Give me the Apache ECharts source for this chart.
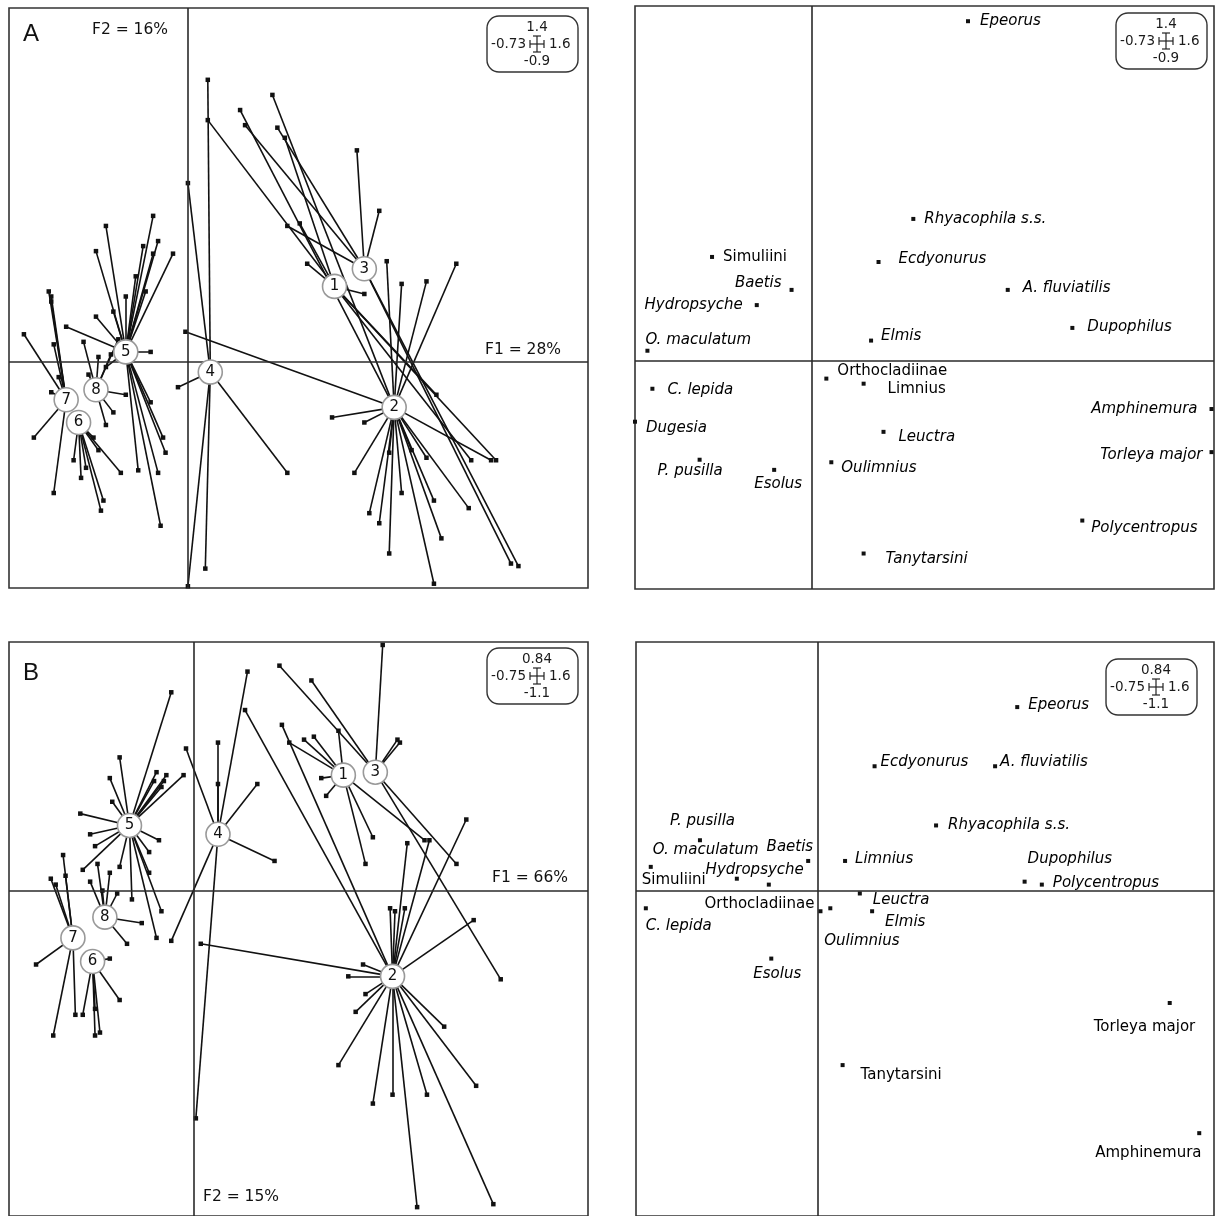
<!DOCTYPE html>
<html><head><meta charset="utf-8">
<script src="https://cdn.jsdelivr.net/npm/echarts/dist/echarts.min.js"></script>
<style>html,body{margin:0;padding:0;background:#fff}#c{width:1216px;height:1216px}</style>
</head><body><div id="c"></div>
<script>
// ---------- DATA ----------
const groupIds = ['1','2','3','4','5','6','7','8'];

// Panel A (F1 = 28%, F2 = 16%) class centres, ids 1..8
const centersA = [[0.59,0.30],[0.83,-0.18],[0.71,0.37],[0.09,-0.04],[-0.25,0.04],[-0.44,-0.24],[-0.49,-0.15],[-0.37,-0.11]];
const sitesA1 = [[0.08,0.96],[0.39,0.89],[0.48,0.39],[0.71,0.27],[1.24,-0.39],[1.14,-0.39],[1.00,-0.13],[0.45,0.55]];
const sitesA2 = [[0.34,1.06],[0.21,1.00],[0.80,0.40],[0.86,0.31],[0.96,0.32],[1.08,0.39],[-0.01,0.12],[0.58,-0.22],[0.71,-0.24],[0.67,-0.44],[0.81,-0.76],[0.73,-0.60],[0.77,-0.64],[0.86,-0.52],[0.99,-0.55],[1.02,-0.70],[0.99,-0.88],[1.13,-0.58],[1.22,-0.39],[0.81,-0.36],[0.90,-0.35],[0.96,-0.38]];
const sitesA3 = [[0.23,0.94],[0.36,0.93],[0.68,0.84],[0.77,0.60],[1.33,-0.81],[1.30,-0.80],[0.40,0.54]];
const sitesA4 = [[0.08,1.12],[0.00,0.71],[-0.04,-0.10],[0.40,-0.44],[0.07,-0.82],[0.00,-0.89]];
const sitesA5 = [[-0.33,0.54],[-0.37,0.44],[-0.14,0.58],[-0.21,0.34],[-0.14,0.43],[-0.06,0.43],[-0.25,0.26],[-0.17,0.28],[-0.12,0.48],[-0.18,0.46],[-0.15,0.04],[-0.20,-0.43],[-0.11,-0.65],[-0.09,-0.36],[-0.10,-0.30],[-0.15,-0.16],[-0.49,0.14],[-0.37,0.18],[-0.30,0.20],[-0.33,-0.02],[-0.12,-0.44]];
const sitesA6 = [[-0.35,-0.59],[-0.34,-0.55],[-0.43,-0.46],[-0.46,-0.39],[-0.27,-0.44],[-0.41,-0.42],[-0.38,-0.30],[-0.36,-0.35]];
const sitesA7 = [[-0.56,0.28],[-0.55,0.26],[-0.55,0.24],[-0.66,0.11],[-0.54,0.07],[-0.54,-0.52],[-0.62,-0.30],[-0.55,-0.12],[-0.52,-0.06]];
const sitesA8 = [[-0.25,-0.13],[-0.36,0.02],[-0.31,0.03],[-0.28,0.09],[-0.42,0.08],[-0.33,-0.25],[-0.30,-0.20],[-0.40,-0.05]];

// Panel B (F1 = 66%, F2 = 15%)
const centersB = [[0.61,0.39],[0.81,-0.29],[0.74,0.40],[0.10,0.19],[-0.26,0.22],[-0.41,-0.24],[-0.49,-0.16],[-0.36,-0.09]];
const sitesB1 = [[0.39,0.50],[0.45,0.51],[0.49,0.52],[0.59,0.54],[0.52,0.38],[0.54,0.32],[0.73,0.18],[0.70,0.09],[0.94,0.17]];
const sitesB2 = [[0.21,0.61],[0.36,0.56],[1.11,0.24],[1.14,-0.10],[0.87,0.16],[0.96,0.17],[0.59,-0.59],[0.73,-0.72],[0.81,-0.69],[0.95,-0.69],[1.15,-0.66],[1.02,-0.46],[1.22,-1.06],[0.91,-1.07],[0.63,-0.29],[0.66,-0.41],[0.70,-0.35],[0.69,-0.25],[0.03,-0.18],[0.80,-0.06],[0.82,-0.07],[0.86,-0.06]];
const sitesB3 = [[0.48,0.71],[0.35,0.76],[0.77,0.83],[0.83,0.51],[0.84,0.50],[1.07,0.09],[1.25,-0.30]];
const sitesB4 = [[-0.03,0.48],[0.10,0.50],[0.22,0.74],[0.26,0.36],[0.33,0.10],[-0.09,-0.17],[0.01,-0.77],[0.10,0.36]];
const sitesB5 = [[-0.09,0.67],[-0.30,0.45],[-0.34,0.38],[-0.33,0.30],[-0.46,0.26],[-0.42,0.19],[-0.15,0.40],[-0.11,0.39],[-0.04,0.39],[-0.16,0.37],[-0.14,0.17],[-0.18,0.13],[-0.30,0.08],[-0.25,-0.03],[-0.13,-0.07],[-0.18,0.06],[-0.40,0.15],[-0.45,0.07],[-0.15,-0.16],[-0.13,0.35],[-0.12,0.37]];
const sitesB6 = [[-0.40,-0.49],[-0.38,-0.48],[-0.30,-0.37],[-0.34,-0.23],[-0.45,-0.42],[-0.40,-0.40]];
const sitesB7 = [[-0.53,0.12],[-0.58,0.04],[-0.56,0.02],[-0.64,-0.25],[-0.57,-0.49],[-0.48,-0.42],[-0.52,0.05]];
const sitesB8 = [[-0.42,0.03],[-0.39,0.09],[-0.31,-0.01],[-0.21,-0.11],[-0.37,0.00],[-0.34,0.06],[-0.27,-0.18]];

// Species (taxa) scores
const speciesA  = ['Epeorus','Rhyacophila s.s.','Simuliini','Ecdyonurus','Baetis','A. fluviatilis','Hydropsyche','Dupophilus','Elmis','O. maculatum','Orthocladiinae','Limnius','C. lepida','Amphinemura','Leuctra','Dugesia','Torleya major','Oulimnius','P. pusilla','Esolus','Polycentropus','Tanytarsini'];
const speciesAx = [0.63,0.41,-0.40,0.27,-0.08,0.79,-0.22,1.05,0.24,-0.66,0.06,0.21,-0.64,1.61,0.29,-0.71,1.61,0.08,-0.45,-0.15,1.09,0.21];
const speciesAy = [1.34,0.56,0.41,0.39,0.28,0.28,0.22,0.13,0.08,0.04,-0.07,-0.09,-0.11,-0.19,-0.28,-0.24,-0.36,-0.40,-0.39,-0.43,-0.63,-0.76];
const uprightA  = ['Simuliini','Orthocladiinae','Limnius'];

const speciesB  = ['Epeorus','Ecdyonurus','A. fluviatilis','Rhyacophila s.s.','P. pusilla','Simuliini','O. maculatum','Hydropsyche','Baetis','Limnius','Dupophilus','Polycentropus','Orthocladiinae','Oulimnius','Leuctra','Elmis','C. lepida','Dugesia','Esolus','Torleya major','Tanytarsini','Amphinemura'];
const speciesBx = [0.81,0.23,0.72,0.48,-0.48,-0.68,-0.33,-0.20,-0.04,0.11,0.84,0.91,0.01,0.05,0.17,0.22,-0.70,-0.75,-0.19,1.43,0.10,1.55];
const speciesBy = [0.62,0.42,0.42,0.22,0.17,0.08,0.04,0.02,0.10,0.10,0.03,0.02,-0.07,-0.06,-0.01,-0.07,-0.06,-0.21,-0.23,-0.38,-0.59,-0.82];
const uprightB  = ['Simuliini','Orthocladiinae','Tanytarsini','Torleya major','Amphinemura'];

// Scale boxes: [top, left, right, bottom]
const scaleA = ['1.4','-0.73','1.6','-0.9'];
const scaleB = ['0.84','-0.75','1.6','-1.1'];
const axisTitles = ['F1 = 28%','F2 = 16%','F1 = 66%','F2 = 15%'];
const panelLetters = ['A','B'];

// ---------- STYLE / LAYOUT ----------
// label offsets (px from point to text anchor): [dx, dy, align]
const labelPlaceA = {
  'Epeorus':[12,0,'left'],'Rhyacophila s.s.':[11,0,'left'],'Simuliini':[11,0,'left'],'Ecdyonurus':[20,-3,'left'],
  'Baetis':[-10,-7,'right'],'A. fluviatilis':[15,-2,'left'],'Hydropsyche':[-14,0,'right'],'Dupophilus':[15,-1,'left'],
  'Elmis':[10,-4,'left'],'O. maculatum':[-2,-11,'left'],'Orthocladiinae':[11,-8,'left'],'Limnius':[24,5,'left'],
  'C. lepida':[15,1,'left'],'Amphinemura':[-14,0,'right'],'Leuctra':[15,5,'left'],'Dugesia':[11,6,'left'],
  'Torleya major':[-9,3,'right'],'Oulimnius':[10,6,'left'],'P. pusilla':[-42,11,'left'],'Esolus':[-20,14,'left'],
  'Polycentropus':[9,8,'left'],'Tanytarsini':[22,6,'left']
};
const labelPlaceB = {
  'Epeorus':[11,-2,'left'],'Ecdyonurus':[6,-4,'left'],'A. fluviatilis':[5,-4,'left'],'Rhyacophila s.s.':[12,0,'left'],
  'P. pusilla':[-30,-19,'left'],'Simuliini':[-9,13,'left'],'O. maculatum':[-84,-29,'left'],'Hydropsyche':[35,-15,'right'],
  'Baetis':[5,-14,'right'],'Limnius':[10,-2,'left'],'Dupophilus':[3,-23,'left'],'Polycentropus':[11,-2,'left'],
  'Orthocladiinae':[-6,-7,'right'],'Oulimnius':[-6,33,'left'],'Leuctra':[13,7,'left'],'Elmis':[13,11,'left'],
  'C. lepida':[0,18,'left'],'Dugesia':[12,7,'left'],'Esolus':[-18,16,'left'],'Torleya major':[-76,24,'left'],
  'Tanytarsini':[18,10,'left'],'Amphinemura':[-104,20,'left']
};

const FONT = 'DejaVu Sans';
const INK = '#111';

const grids = [
  {left:9,   top:8,   width:579, height:580},
  {left:635, top:6,   width:579, height:583},
  {left:9,   top:642, width:579, height:582},
  {left:636, top:642, width:578, height:582}
];
const xRanges = [[-0.72,1.61],[-0.71,1.62],[-0.75,1.605],[-0.74,1.61]];
const yRanges = [[-0.897,1.405],[-0.90,1.40],[-1.10,0.84],[-1.10,0.84]];

const chart = echarts.init(document.getElementById('c'), null, {renderer:'canvas'});

const series = [];

function zeroLines(idx){
  series.push({
    type:'scatter', xAxisIndex:idx, yAxisIndex:idx, data:[[0,0]], symbolSize:0, silent:true, z:1,
    markLine:{silent:true, symbol:'none', animation:false, label:{show:false},
      lineStyle:{color:'#2a2a2a', type:'solid', width:1.6, opacity:1},
      data:[{xAxis:0},{yAxis:0}]}
  });
}

function starPanel(idx, centers, sites){
  const segs = [], ends = [];
  sites.forEach((arr, g) => {
    arr.forEach(p => { segs.push({coords:[centers[g], p]}); ends.push(p); });
  });
  series.push({type:'lines', coordinateSystem:'cartesian2d', xAxisIndex:idx, yAxisIndex:idx,
    polyline:false, silent:true, z:3, data:segs,
    lineStyle:{color:INK, width:1.6, opacity:1}});
  series.push({type:'scatter', xAxisIndex:idx, yAxisIndex:idx, data:ends, symbol:'rect', symbolSize:4.5,
    itemStyle:{color:INK, opacity:1}, silent:true, z:4});
  series.push({type:'scatter', xAxisIndex:idx, yAxisIndex:idx, z:6, silent:true,
    data:centers.map((c,i)=>({value:c, name:groupIds[i]})),
    symbol:'circle', symbolSize:24,
    itemStyle:{color:'#fff', borderColor:'#999', borderWidth:1.6, opacity:1},
    label:{show:true, position:'inside', formatter:p=>p.name, color:'#111', fontSize:15, fontFamily:FONT}});
}

function speciesPanel(idx, names, xs, ys, upright, place){
  series.push({type:'scatter', xAxisIndex:idx, yAxisIndex:idx, z:5, silent:true,
    symbol:'rect', symbolSize:4, itemStyle:{color:INK, opacity:1},
    data:names.map((n,i)=>{
      const pl = place[n];
      return {value:[xs[i], ys[i]], name:n,
        label:{show:true, formatter:n, position:[pl[0]+2, pl[1]+2], align:pl[2], verticalAlign:'middle',
          fontStyle: upright.includes(n) ? 'normal' : 'italic',
          fontFamily:FONT, fontSize:15, color:'#000', opacity:1}};
    })});
}

for (let i=0;i<4;i++) zeroLines(i);
starPanel(0, centersA, [sitesA1,sitesA2,sitesA3,sitesA4,sitesA5,sitesA6,sitesA7,sitesA8]);
starPanel(2, centersB, [sitesB1,sitesB2,sitesB3,sitesB4,sitesB5,sitesB6,sitesB7,sitesB8]);
speciesPanel(1, speciesA, speciesAx, speciesAy, uprightA, labelPlaceA);
speciesPanel(3, speciesB, speciesBx, speciesBy, uprightB, labelPlaceB);

function scaleBox(x0, y0, vals){
  const w = 91, h = 56, cx = x0 + 50, cy = y0 + 28;
  const ls = {stroke:'#222', lineWidth:1.2};
  const t = (x,y,s,al) => ({type:'text', x, y, style:{text:s, font:'13.5px '+FONT, fill:'#1a1a1a', textAlign:al, textVerticalAlign:'middle'}});
  return {type:'group', z:10, children:[
    {type:'rect', shape:{x:x0, y:y0, width:w, height:h, r:12}, style:{fill:'#fff', stroke:'#333', lineWidth:1.4}},
    t(cx, y0+11, vals[0], 'center'),
    t(cx-11, cy, vals[1], 'right'),
    t(cx+12, cy, vals[2], 'left'),
    t(cx, y0+45, vals[3], 'center'),
    {type:'line', shape:{x1:cx-7, y1:cy, x2:cx+7, y2:cy}, style:ls},
    {type:'line', shape:{x1:cx-7, y1:cy-4, x2:cx-7, y2:cy+4}, style:ls},
    {type:'line', shape:{x1:cx+7, y1:cy-4, x2:cx+7, y2:cy+4}, style:ls},
    {type:'line', shape:{x1:cx, y1:cy-8, x2:cx, y2:cy+8}, style:ls},
    {type:'line', shape:{x1:cx-4, y1:cy-8, x2:cx+4, y2:cy-8}, style:ls},
    {type:'line', shape:{x1:cx-4, y1:cy+8, x2:cx+4, y2:cy+8}, style:ls}
  ]};
}
function txt(x, y, s, size, family, align){
  return {type:'text', x, y, z:10, style:{text:s, font:size+'px '+family, fill:'#111', textAlign:align||'left', textVerticalAlign:'middle'}};
}

const option = {
  animation:false,
  backgroundColor:'#fff',
  grid: grids.map(g => Object.assign({show:true, borderColor:'#333', borderWidth:1.6, backgroundColor:'transparent', containLabel:false}, g)),
  xAxis: xRanges.map((r,i)=>({type:'value', gridIndex:i, min:r[0], max:r[1], show:false})),
  yAxis: yRanges.map((r,i)=>({type:'value', gridIndex:i, min:r[0], max:r[1], show:false})),
  series,
  graphic:[
    scaleBox(487, 16, scaleA),
    scaleBox(1116, 13, scaleA),
    scaleBox(487, 648, scaleB),
    scaleBox(1106, 659, scaleB),
    txt(23, 34, panelLetters[0], 24, 'Liberation Sans'),
    txt(23, 673, panelLetters[1], 24, 'Liberation Sans'),
    txt(92, 30, axisTitles[1], 15.5, FONT),
    txt(485, 350, axisTitles[0], 15.5, FONT),
    txt(492, 878, axisTitles[2], 15.5, FONT),
    txt(203, 1197, axisTitles[3], 15.5, FONT)
  ]
};
chart.setOption(option);
</script></body></html>
